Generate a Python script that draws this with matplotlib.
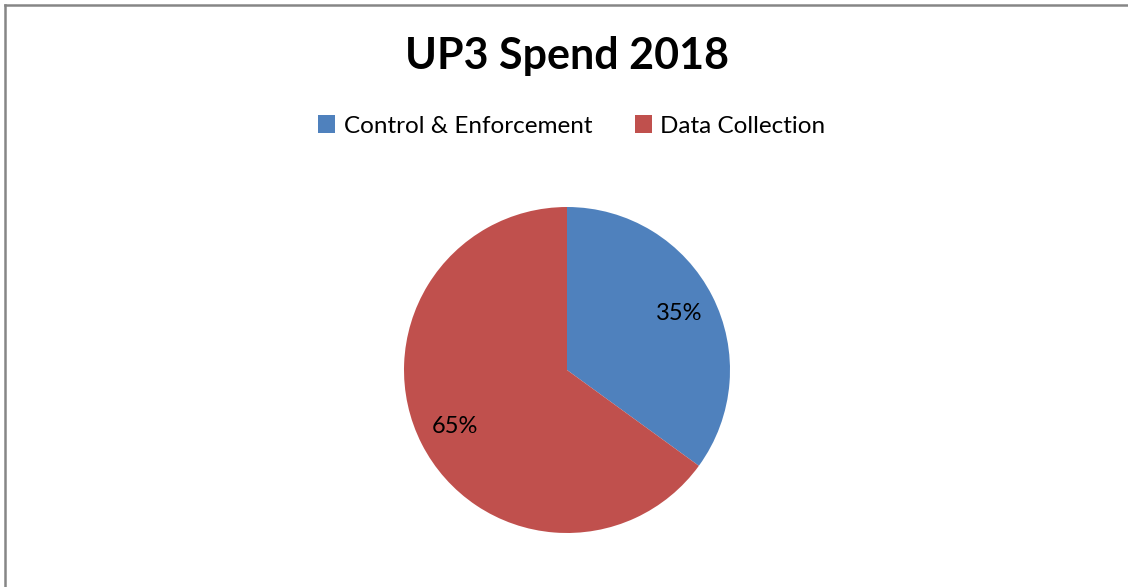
import matplotlib
matplotlib.use("Agg")
import matplotlib.pyplot as plt
from matplotlib.lines import Line2D

# data
categories = ["Control & Enforcement", "Data Collection"]
shares = [35, 65]
colors = ["#4F81BD", "#C0504D"]

plt.rcParams['font.family'] = ['Lato', 'DejaVu Sans']

W, H = 1128, 587
fig = plt.figure(figsize=(W / 100, H / 100), dpi=100)

# pie placed by pixel geometry
cx, cy, r = 567, 370, 163
ax = fig.add_axes([(cx - r) / W, (H - cy - r) / H, 2 * r / W, 2 * r / H])
wedges, texts, autotexts = ax.pie(
    shares, colors=colors, startangle=90, counterclock=False,
    autopct='%1.0f%%', pctdistance=0.77,
    wedgeprops=dict(edgecolor='none', linewidth=0),
    textprops=dict(fontsize=17, color='black'))
ax.set_xlim(-1, 1)
ax.set_ylim(-1, 1)
ax.set_aspect('equal')

fig.text(cx / W, 1 - 56 / H, "UP3 Spend 2018", ha='center', va='center',
         fontsize=31, fontweight='bold')

fig.legend(wedges, categories, loc='center', bbox_to_anchor=(572 / W, 1 - 126 / H),
           ncol=2, frameon=False, fontsize=17.5, handlelength=0.7, handleheight=0.7,
           handletextpad=0.35, columnspacing=1.75)

# chart area border (only left and top edges visible)
fig.add_artist(Line2D([4.5 / W, 4.5 / W], [0, 1 - 4.5 / H], transform=fig.transFigure,
                      color='#868686', lw=1.8))
fig.add_artist(Line2D([4.5 / W, 1], [1 - 4.5 / H, 1 - 4.5 / H], transform=fig.transFigure,
                      color='#868686', lw=1.8))

fig.savefig("out.png", dpi=100)
